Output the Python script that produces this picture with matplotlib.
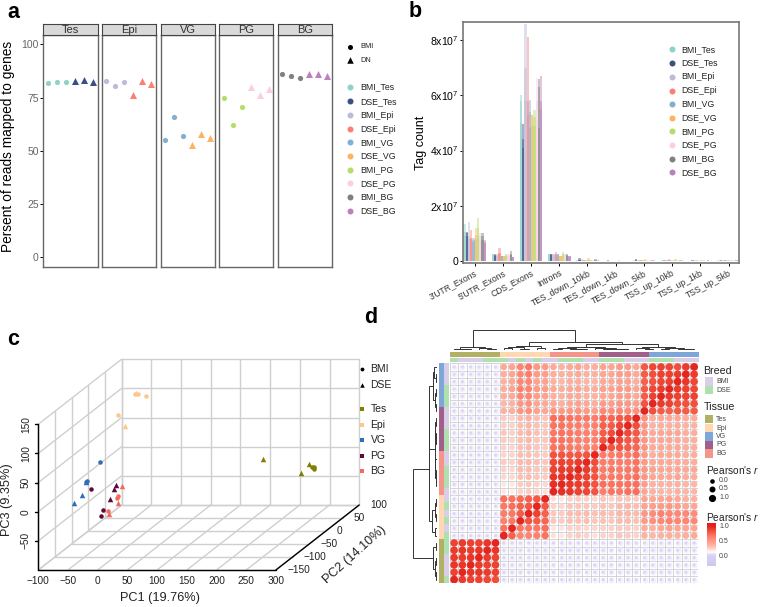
"""Four panel RNA-seq figure: mapping rate, tag counts, PCA and correlation map."""

import numpy as np
import matplotlib

matplotlib.use("Agg")
import matplotlib.pyplot as plt
from matplotlib.colors import LinearSegmentedColormap, ListedColormap
from matplotlib.patches import Rectangle

plt.rcParams["font.family"] = ["Liberation Sans", "DejaVu Sans"]
plt.rcParams["mathtext.fontset"] = "custom"
plt.rcParams["mathtext.rm"] = "Liberation Sans"
plt.rcParams["mathtext.it"] = "Liberation Sans:italic"
plt.rcParams["mathtext.default"] = "regular"

W, H = 760, 607

# shared sample groups
samples = ["BMI_Tes", "DSE_Tes", "BMI_Epi", "DSE_Epi", "BMI_VG",
           "DSE_VG", "BMI_PG", "DSE_PG", "BMI_BG", "DSE_BG"]
sample_colors = ["#8DD3C7", "#3C4F82", "#BEBADA", "#FB8072", "#80B1D3",
                 "#FDB462", "#B3DE69", "#FCCDE5", "#808080", "#BC80BD"]
tissues = ["Tes", "Epi", "VG", "PG", "BG"]

# panel a, three BMI then three DSE libraries per tissue
mapped_tes = [81.8, 82.3, 82.3, 82.6, 83.1, 82.2]
mapped_epi = [83.0, 80.7, 82.3, 76.0, 82.8, 81.5]
mapped_vg = [55.0, 66.0, 57.0, 52.8, 58.0, 56.0]
mapped_pg = [75.0, 62.0, 70.7, 80.0, 76.3, 79.0]
mapped_bg = [86.0, 85.0, 84.3, 86.2, 86.0, 85.3]

# panel b, in units of 1e7, one row per feature
features = ["3'UTR_Exons", "5'UTR_Exons", "CDS_Exons", "Introns", "TES_down_10kb",
            "TES_down_1kb", "TES_down_5kb", "TSS_up_10kb", "TSS_up_1kb", "TSS_up_5kb"]
tags_high = [
    [1.34, 1.05, 1.42, 1.12, 0.82, 1.20, 1.55, 1.00, 1.00, 0.78],
    [0.25, 0.24, 0.24, 0.47, 0.20, 0.20, 0.24, 0.25, 0.38, 0.15],
    [6.02, 4.95, 8.56, 8.10, 5.83, 5.30, 5.47, 6.63, 6.60, 6.70],
    [0.27, 0.27, 0.27, 0.32, 0.26, 0.20, 0.33, 0.26, 0.25, 0.20],
    [0.03, 0.10, 0.06, 0.05, 0.04, 0.10, 0.05, 0.03, 0.06, 0.04],
    [0.02, 0.03, 0.02, 0.02, 0.02, 0.02, 0.03, 0.02, 0.02, 0.02],
    [0.03, 0.06, 0.04, 0.05, 0.03, 0.06, 0.04, 0.03, 0.04, 0.03],
    [0.03, 0.04, 0.05, 0.08, 0.03, 0.04, 0.06, 0.03, 0.04, 0.03],
    [0.02, 0.04, 0.03, 0.05, 0.02, 0.03, 0.04, 0.02, 0.03, 0.02],
    [0.03, 0.05, 0.03, 0.05, 0.03, 0.04, 0.04, 0.03, 0.03, 0.02],
]
tags_mid = [
    [1.05, 1.00, 0.90, 0.85, 0.75, 0.95, 1.20, 0.90, 0.90, 0.70],
    [0.24, 0.22, 0.22, 0.30, 0.19, 0.19, 0.22, 0.22, 0.25, 0.14],
    [5.80, 4.40, 7.00, 5.80, 5.40, 5.30, 5.20, 5.80, 6.30, 5.80],
    [0.25, 0.25, 0.25, 0.26, 0.24, 0.19, 0.26, 0.25, 0.23, 0.18],
    [0.02, 0.05, 0.03, 0.03, 0.02, 0.05, 0.03, 0.02, 0.03, 0.02],
    [0.01, 0.02, 0.01, 0.01, 0.01, 0.01, 0.02, 0.01, 0.01, 0.01],
    [0.02, 0.03, 0.02, 0.03, 0.02, 0.03, 0.02, 0.02, 0.02, 0.02],
    [0.02, 0.02, 0.03, 0.04, 0.02, 0.02, 0.03, 0.02, 0.02, 0.02],
    [0.01, 0.02, 0.02, 0.02, 0.01, 0.02, 0.02, 0.01, 0.02, 0.01],
    [0.02, 0.02, 0.02, 0.03, 0.02, 0.02, 0.02, 0.02, 0.02, 0.01],
]
tags_low = [
    [0.90, 0.90, 0.80, 0.80, 0.70, 0.80, 0.90, 0.80, 0.75, 0.65],
    [0.22, 0.20, 0.20, 0.24, 0.18, 0.18, 0.20, 0.20, 0.22, 0.13],
    [5.00, 4.10, 5.80, 5.30, 4.80, 4.90, 4.90, 5.10, 4.80, 5.50],
    [0.22, 0.22, 0.23, 0.22, 0.22, 0.18, 0.23, 0.22, 0.20, 0.16],
    [0.01, 0.03, 0.02, 0.02, 0.01, 0.03, 0.02, 0.01, 0.02, 0.01],
    [0.01, 0.01, 0.01, 0.01, 0.01, 0.01, 0.01, 0.01, 0.01, 0.01],
    [0.01, 0.02, 0.01, 0.02, 0.01, 0.02, 0.01, 0.01, 0.01, 0.01],
    [0.01, 0.01, 0.02, 0.02, 0.01, 0.01, 0.02, 0.01, 0.01, 0.01],
    [0.01, 0.01, 0.01, 0.01, 0.01, 0.01, 0.01, 0.01, 0.01, 0.01],
    [0.01, 0.01, 0.01, 0.02, 0.01, 0.01, 0.01, 0.01, 0.01, 0.01],
]

# panel c, (PC1, PC2, PC3) per library
pca_colors = {"Tes": "#808000", "Epi": "#FFC68C", "VG": "#2F6DB5", "PG": "#5E0B3B", "BG": "#F4695F"}
pca_bmi = {
    "Tes": [(288, -20, 19), (290.5, -20, 18), (292, -20, 16)],
    "Epi": [(-49, 50, 112), (-44.5, 50, 112), (-31, 50, 109), (-78, 50, 77)],
    "VG": [(-46, -60, 45), (-69, -60, 12), (-70, -60, 10)],
    "PG": [(-62, -60, -2), (-41, -60, -37), (-45, -60, -48)],
    "BG": [(-17, -60, -13), (-17.5, -60, -16), (-33, -60, -39)],
}
pca_dse = {
    "Tes": [(205, -20, 32), (270, -20, 9), (282, -20, 23)],
    "Epi": [(-47, 50, 114), (-66, 50, 57)],
    "VG": [(-71, -60, 10), (-77, -60, -11), (-91, -60, -26)],
    "PG": [(-19, -60, 5), (-23, -60, -2), (-30, -60, -19)],
    "BG": [(-9, -60, 4), (-16, -60, -26), (-31, -60, -44)],
}

# panel d, row blocks top to bottom, column blocks Tes, Epi, BG, PG, VG
corr_rows = [
    [.04, .05, .04, .05, .04, .04, .42, .45, .62, .68, .52, .50, .42, .38, .42, .45, .40, .40, .46, .45, .50, .50, .42, .82, .88, .90, .88, .85, .92, 1.0],
    [.05, .04, .05, .05, .04, .04, .40, .44, .60, .66, .50, .48, .40, .38, .40, .42, .38, .38, .44, .44, .48, .48, .42, .80, .85, .90, .90, .92, 1.0, .92],
    [.04, .03, .05, .04, .04, .05, .38, .42, .60, .62, .46, .46, .38, .36, .40, .40, .36, .36, .42, .42, .46, .46, .40, .78, .84, .88, .90, 1.0, .94, .88],
    [.05, .05, .04, .05, .03, .04, .40, .45, .64, .62, .50, .48, .42, .40, .42, .44, .40, .40, .46, .46, .50, .50, .44, .80, .88, .92, 1.0, .92, .90, .88],
    [.04, .05, .04, .04, .05, .04, .40, .42, .60, .60, .48, .46, .40, .38, .42, .42, .38, .38, .44, .44, .48, .48, .42, .80, .90, 1.0, .92, .90, .90, .90],
    [.05, .04, .05, .05, .04, .03, .36, .38, .52, .55, .44, .42, .44, .40, .44, .46, .42, .40, .50, .48, .52, .52, .48, .84, 1.0, .92, .90, .86, .85, .85],
    [.03, .04, .04, .04, .03, .04, .38, .40, .52, .55, .46, .44, .52, .50, .52, .54, .50, .48, .60, .58, .60, .58, .55, 1.0, .85, .80, .78, .80, .80, .80],
    [.04, .03, .04, .04, .03, .03, .28, .26, .34, .38, .33, .30, .72, .72, .70, .68, .68, .66, .76, .76, .80, .84, 1.0, .55, .40, .42, .42, .42, .40, .40],
    [.03, .04, .03, .04, .04, .03, .27, .26, .33, .36, .32, .30, .70, .70, .66, .66, .62, .64, .78, .80, .88, 1.0, .86, .52, .38, .40, .40, .40, .38, .38],
    [.04, .03, .04, .03, .03, .04, .30, .27, .34, .37, .32, .30, .68, .70, .68, .66, .64, .64, .80, .86, 1.0, .88, .82, .52, .42, .44, .44, .44, .40, .40],
    [.03, .04, .03, .04, .03, .03, .28, .26, .33, .36, .30, .30, .70, .70, .68, .66, .64, .64, .84, 1.0, .88, .82, .78, .52, .42, .44, .44, .42, .40, .40],
    [.03, .03, .04, .03, .04, .03, .26, .25, .32, .34, .30, .28, .70, .72, .68, .66, .64, .64, 1.0, .84, .84, .80, .76, .54, .42, .42, .42, .42, .40, .40],
    [.03, .04, .03, .03, .03, .04, .25, .25, .33, .33, .30, .28, .84, .84, .82, .82, .84, 1.0, .66, .66, .68, .68, .72, .50, .40, .42, .42, .42, .40, .40],
    [.04, .03, .03, .04, .03, .03, .28, .26, .34, .35, .32, .30, .88, .90, .88, .92, 1.0, .86, .66, .66, .66, .66, .70, .50, .42, .42, .42, .42, .40, .40],
    [.03, .03, .04, .03, .03, .04, .26, .24, .34, .34, .30, .30, .90, .92, .92, 1.0, .92, .84, .66, .68, .66, .68, .70, .52, .46, .44, .44, .44, .42, .42],
    [.03, .04, .03, .03, .04, .03, .24, .24, .32, .34, .30, .28, .94, .94, 1.0, .92, .90, .84, .68, .68, .68, .68, .72, .52, .44, .42, .42, .44, .40, .40],
    [.04, .03, .03, .03, .03, .04, .20, .20, .28, .30, .26, .24, .96, 1.0, .94, .92, .90, .84, .72, .70, .70, .70, .72, .48, .38, .38, .38, .38, .36, .36],
    [.03, .03, .04, .03, .03, .03, .20, .18, .26, .28, .24, .22, 1.0, .96, .94, .90, .88, .84, .66, .70, .68, .72, .72, .44, .38, .36, .36, .38, .36, .36],
    [.04, .03, .04, .04, .03, .03, .72, .70, .74, .78, .82, 1.0, .22, .20, .26, .28, .26, .24, .30, .26, .30, .30, .28, .44, .42, .44, .46, .42, .38, .38],
    [.03, .04, .03, .03, .04, .03, .68, .72, .78, .82, 1.0, .82, .26, .24, .30, .30, .30, .28, .32, .30, .34, .36, .33, .46, .48, .50, .52, .48, .44, .44],
    [.03, .02, .03, .04, .03, .03, .66, .68, .80, 1.0, .90, .78, .30, .28, .34, .34, .34, .32, .34, .32, .36, .36, .34, .52, .58, .64, .62, .60, .60, .58],
    [.04, .03, .04, .03, .03, .04, .64, .68, 1.0, .84, .80, .76, .30, .28, .32, .32, .33, .30, .32, .30, .34, .34, .32, .50, .56, .60, .64, .62, .62, .60],
    [.03, .04, .03, .03, .04, .03, .70, 1.0, .68, .68, .68, .72, .20, .20, .26, .26, .24, .24, .26, .26, .28, .28, .26, .40, .38, .42, .46, .44, .44, .44],
    [.02, .03, .03, .03, .03, .03, 1.0, .78, .62, .62, .64, .70, .22, .20, .26, .28, .26, .22, .26, .26, .30, .28, .26, .38, .36, .38, .40, .38, .40, .42],
    [.90, .92, .90, .90, .94, 1.0, .03, .03, .04, .03, .04, .03, .03, .04, .03, .03, .04, .03, .03, .04, .03, .03, .04, .03, .04, .03, .03, .04, .03, .03],
    [.92, .94, .92, .94, 1.0, .94, .03, .04, .03, .03, .03, .04, .04, .03, .03, .04, .03, .03, .04, .03, .04, .03, .03, .03, .03, .04, .03, .03, .03, .04],
    [.92, .92, .94, 1.0, .92, .90, .04, .03, .03, .04, .03, .03, .03, .03, .04, .03, .03, .04, .03, .03, .03, .04, .03, .04, .03, .03, .04, .03, .04, .03],
    [.94, .94, 1.0, .92, .90, .90, .03, .03, .04, .03, .03, .04, .03, .04, .03, .03, .02, .03, .03, .04, .03, .03, .04, .03, .03, .04, .03, .03, .03, .03],
    [.90, 1.0, .94, .94, .92, .90, .03, .04, .03, .03, .04, .03, .04, .03, .03, .04, .03, .03, .03, .03, .04, .03, .03, .04, .03, .03, .03, .04, .03, .03],
    [1.0, .92, .90, .90, .88, .86, .00, .00, .01, .00, .00, .01, .01, .00, .00, .01, .00, .00, .00, .01, .00, .00, .01, .00, .00, .01, .00, .00, .01, .00],
]
# 0 = BMI, 1 = DSE, left to right
col_breed = [1, 0, 0, 0, 1, 1, 1, 0, 1, 0, 1, 0, 0, 1, 1, 1, 0, 0, 1, 1, 1, 0, 0, 0, 1, 1, 1, 0, 0, 0]
row_breed = col_breed[::-1]
# 0 Tes, 1 Epi, 2 VG, 3 PG, 4 BG
col_tissue = [0] * 6 + [1] * 6 + [4] * 6 + [3] * 6 + [2] * 6
row_tissue = col_tissue[::-1]
tissue_colors = ["#B2B064", "#FFD7B0", "#7EA6D8", "#A0608A", "#F59488"]
breed_colors = ["#D8CEE8", "#B0E0B0"]

# dendrograms as (height, left, right), leaves are grid indices
col_tree = (20, (2.7, (1.0, 0, (0.5, 1, 2)), (1.4, 3, (0.6, 4, 5))),
            (7.3, (4.0, (3.0, (1.3, 6, 7), (0.8, 8, 9)), (1.6, 10, 11)),
             (5.7, (2.3, (1.6, (0.6, 12, 13), (0.9, 14, (0.4, 15, 16))), (1.4, 17, (1.0, (0.5, 18, 19), (0.6, 20, 21)))),
              (3.0, (1.8, 22, (0.8, 23, 24)), (1.8, (0.7, 25, 26), (0.9, 27, (0.4, 28, 29)))))))
row_tree = (24, (8.8, (8.2, (4.4, (3.0, 0, (1.6, 1, 2)), (2.8, (1.0, 3, 4), (1.2, 5, 6))),
                  (2.9, (2.2, (1.0, 7, 8), (1.4, 9, (0.6, 10, 11))), (2.0, (0.8, 12, 13), (1.1, 14, (0.7, (0.3, 15, 16), 17))))),
            (5.0, (2.8, (1.0, 18, 19), (1.6, 20, 21)), (2.0, 22, 23))),
            (4.0, (1.6, 24, 25), (2.6, (1.2, 26, 27), (1.0, 28, 29))))


def axes_px(x0, y0, x1, y1, **kwargs):
    """Add axes from pixel edges measured from the top left."""
    return fig.add_axes([x0 / W, 1 - y1 / H, (x1 - x0) / W, (y1 - y0) / H], **kwargs)


def marker_area(d_px):
    """Scatter area for a marker diameter given in pixels."""
    return (np.asarray(d_px) * 0.72) ** 2


def draw_tree(node, segs):
    """Collect the branch lines of a nested tree, returns position and height."""
    if not isinstance(node, tuple):
        return node, 0.0
    h, left, right = node
    p1, h1 = draw_tree(left, segs)
    p2, h2 = draw_tree(right, segs)
    segs.append(([p1, p1, p2, p2], [h1, h, h, h2]))
    return (p1 + p2) / 2, h


fig = plt.figure(figsize=(W / 100, H / 100), dpi=100)
overlay = axes_px(0, 0, W, H, zorder=10)
overlay.set_xlim(0, W)
overlay.set_ylim(H, 0)
overlay.axis("off")

for label, x, y in [("a", 7.5, 18), ("b", 409, 17), ("c", 7.5, 345), ("d", 364, 323)]:
    overlay.text(x, y, label, fontsize=15.5, fontweight="bold", va="baseline")

# panel a
panel_edges = [(43, 97.5), (101.5, 156), (160.5, 215), (219, 273), (277.5, 332)]
mapped = [mapped_tes, mapped_epi, mapped_vg, mapped_pg, mapped_bg]
for t, (tissue, edges) in enumerate(zip(tissues, panel_edges)):
    ax = axes_px(edges[0], 34.5, edges[1], 267)
    for k, value in enumerate(mapped[t]):
        is_dse = k >= 3
        ax.scatter(k + 1, value, s=marker_area(7 if is_dse else 5.2), marker="^" if is_dse else "o",
                   color=sample_colors[2 * t + int(is_dse)], linewidths=0)
    ax.set_xlim(0.45, 6.5)
    ax.set_ylim(-4.7, 104.7)
    ax.set_xticks([])
    if t == 0:
        ax.set_yticks([0, 25, 50, 75, 100])
        ax.tick_params(axis="y", length=2, width=0.7, labelsize=7.5, labelcolor="#666666", pad=1)
    else:
        ax.set_yticks([])
    for spine in ax.spines.values():
        spine.set_color("#666666")
        spine.set_linewidth(1.0)
    strip = axes_px(edges[0], 23.5, edges[1], 34.5)
    strip.set_facecolor("#D9D9D9")
    strip.set_xticks([])
    strip.set_yticks([])
    for spine in strip.spines.values():
        spine.set_color("#444444")
        spine.set_linewidth(0.8)
    strip.text(0.5, 0.45, tissue, transform=strip.transAxes, ha="center", va="center",
               fontsize=8, color="#333333")

overlay.text(8, 146, "Persent of reads mapped to genes", fontsize=9.9, rotation=90,
             ha="center", va="center")
overlay.scatter(350, 46.7, s=marker_area(5), color="black", linewidths=0)
overlay.scatter(350, 60, s=marker_area(6.5), marker="^", color="black", linewidths=0)
overlay.text(360, 46.7, "BMI", fontsize=5.3, va="center", color="#222222")
overlay.text(360, 60, "DN", fontsize=5.3, va="center", color="#222222")
for name, color, y in zip(samples, sample_colors, [87, 101.3, 115.3, 129, 142.3, 156, 170, 183.3, 197, 210.7]):
    overlay.scatter(350, y, s=marker_area(6), color=color, linewidths=0)
    overlay.text(360, y, name, fontsize=6.3, va="center", color="#222222")

# panel b
ax_b = axes_px(463.3, 21.7, 739.3, 263.3)
bar_w = 0.08
for f in range(len(features)):
    for s in range(len(samples)):
        pos = f + 1 + (s - 4.5) * bar_w
        for level in (tags_high, tags_mid, tags_low):
            ax_b.bar(pos, level[f][s], bar_w, color=sample_colors[s], alpha=0.45, linewidth=0)
ax_b.set_xlim(0.6, 10.38)
ax_b.set_ylim(-0.08, 8.66)
ax_b.set_yticks([0, 2, 4, 6, 8])
ax_b.set_yticklabels(["0", r"2x10$^{7}$", r"4x10$^{7}$", r"6x10$^{7}$", r"8x10$^{7}$"], fontsize=7.6)
ax_b.set_xticks(range(1, 11))
ax_b.set_xticklabels(features, rotation=28, ha="right", rotation_mode="anchor", fontsize=6.2, color="#333333")
ax_b.tick_params(axis="both", length=2, width=0.7, pad=1.5)
ax_b.set_ylabel("Tag count", fontsize=9, labelpad=2)
for spine in ax_b.spines.values():
    spine.set_color("#777777")
    spine.set_linewidth(1.2)
for name, color, y in zip(samples, sample_colors, [49.3, 63, 76.7, 90.7, 104, 117.7, 131.3, 145, 158.7, 172.3]):
    overlay.scatter(671.7, y, s=marker_area(6), color=color, linewidths=0)
    overlay.text(681.7, y, name, fontsize=6.3, va="center", color="#222222")

# panel c, oblique projection of the three PCs onto the page
pc1_ticks = list(range(-100, 301, 50))
pc2_ticks = list(range(-150, 101, 50))
pc3_ticks = list(range(-100, 151, 50))
pc2_dx = 0.561
pc2_dy = 0.446


def project(pc1, pc2, pc3):
    """Map PC coordinates to the flat axes of the box."""
    return pc1 + pc2_dx * (pc2 + 150), pc3 + pc2_dy * (pc2 + 150)


# one PC1 unit is 0.594 px and one PC3 unit is 0.583 px
ax_c = axes_px(38.3 - 0.594 * 50, 570 - 0.583 * 250 - 80, 38.3 + 0.594 * 640, 570 + 0.583 * 50)
ax_c.set_xlim(-150, 540)
ax_c.set_ylim(-150, 150 + 80 / 0.583)
ax_c.axis("off")
ax_c.patch.set_alpha(0)


def line3d(p, q, **kwargs):
    """Draw one straight box line between two PC positions."""
    u0, v0 = project(*p)
    u1, v1 = project(*q)
    ax_c.plot([u0, u1], [v0, v1], solid_capstyle="round", **kwargs)


grid_style = {"color": "#CFCFCF", "lw": 1.0, "zorder": 1}
for x in pc1_ticks:
    line3d((x, -150, -100), (x, 100, -100), **grid_style)
    line3d((x, 100, -100), (x, 100, 150), **grid_style)
for y in pc2_ticks:
    line3d((-100, y, -100), (300, y, -100), **grid_style)
    line3d((-100, y, -100), (-100, y, 150), **grid_style)
for z in pc3_ticks:
    line3d((-100, -150, z), (-100, 100, z), **grid_style)
    line3d((-100, 100, z), (300, 100, z), **grid_style)

axis_style = {"color": "black", "lw": 1.0, "zorder": 2}
line3d((-100, -150, -100), (300, -150, -100), **axis_style)
line3d((-100, -150, -100), (-100, -150, 150), **axis_style)
line3d((300, -150, -100), (300, 100, -100), **axis_style)

for x in pc1_ticks:
    ax_c.annotate(str(x).replace("-", "\u2212"), project(x, -150, -100), xytext=(0, -4), textcoords="offset points",
                  ha="center", va="top", fontsize=7.3, color="#222222")
for z in pc3_ticks[1:]:
    ax_c.annotate(str(z).replace("-", "\u2212"), project(-100, -150, z), xytext=(-9, 0), textcoords="offset points",
                  ha="center", va="center", rotation=90, fontsize=7.3, color="#222222")
    line3d((-100, -150, z), (-106, -150, z), **axis_style)
for y in pc2_ticks:
    ax_c.annotate(str(y).replace("-", "\u2212"), project(300, y, -100), xytext=(8, 0), textcoords="offset points",
                  ha="left", va="center", fontsize=7.3, color="#222222")

for tissue in tissues:
    bmi = np.array(pca_bmi[tissue])
    u, v = project(bmi[:, 0], bmi[:, 1], bmi[:, 2])
    ax_c.scatter(u, v, s=marker_area(4.5), color=pca_colors[tissue], linewidths=0, zorder=3)
    dse = np.array(pca_dse[tissue])
    u, v = project(dse[:, 0], dse[:, 1], dse[:, 2])
    ax_c.scatter(u, v, s=marker_area(5.5), marker="^", color=pca_colors[tissue], linewidths=0, zorder=3)

overlay.text(160, 598, "PC1 (19.76%)", fontsize=9.2, ha="center", va="center", color="#222222")
overlay.text(7.3, 500, "PC3 (9.35%)", fontsize=9.2, ha="center", va="center", rotation=90, color="#222222")
overlay.text(355, 555, "PC2 (14.10%)", fontsize=9.2, ha="center", va="center", rotation=42, color="#222222")
overlay.scatter(362, 369.3, s=marker_area(3.8), color="black", linewidths=0)
overlay.scatter(362, 385, s=marker_area(4.5), marker="^", color="black", linewidths=0)
overlay.text(370.5, 369.3, "BMI", fontsize=7.5, va="center", color="#222222")
overlay.text(370.5, 385, "DSE", fontsize=7.5, va="center", color="#222222")
for tissue, y in zip(tissues, [409, 424.7, 440, 455.7, 471]):
    overlay.scatter(362, y, s=marker_area(3.2), marker="s", color=pca_colors[tissue], linewidths=0)
    overlay.text(370.5, y, tissue, fontsize=7.5, va="center", color="#222222")

# panel d
corr_cmap = LinearSegmentedColormap.from_list(
    "corr", [(0.0, "#CFC8F0"), (0.229, "#D8D0F6"), (0.28, "#E4DEFA"), (0.313, "#FFFFFF"),
             (0.437, "#FFC4B8"), (0.52, "#FFA896"), (0.68, "#FF7F6C"), (0.82, "#F2503C"),
             (0.92, "#E5261F"), (1.0, "#E31A1C")])
corr = np.array(corr_rows)
n_rows, n_cols = corr.shape
ax_d = axes_px(450, 363.3, 698.3, 583.3)
ax_d.set_xlim(-0.5, n_cols - 0.5)
ax_d.set_ylim(n_rows - 0.5, -0.5)
ax_d.set_xticks(np.arange(n_cols + 1) - 0.5)
ax_d.set_yticks(np.arange(n_rows + 1) - 0.5)
ax_d.grid(color="#D4D4D4", lw=0.7)
ax_d.set_axisbelow(True)
ax_d.tick_params(length=0, labelbottom=False, labelleft=False)
for spine in ax_d.spines.values():
    spine.set_visible(False)
cols_idx, rows_idx = np.meshgrid(np.arange(n_cols), np.arange(n_rows))
low = corr < 0.15
ax_d.scatter(cols_idx[low], rows_idx[low], s=marker_area(6), color="#F3F0FD", linewidths=0, zorder=2)
sizes = np.interp(corr, [0, 0.1, 0.25, 0.4, 0.7, 1.0], [2.8, 3.6, 5.8, 6.6, 7.2, 7.8])
ax_d.scatter(cols_idx.ravel(), rows_idx.ravel(), s=marker_area(sizes.ravel()), c=corr.ravel(),
             cmap=corr_cmap, vmin=-0.33, vmax=1.11, linewidths=0, zorder=3)

# annotation strips next to the grid
for box, values, cmap, horizontal in [
    ((450, 352.3, 698.3, 357.4), col_tissue, tissue_colors, True),
    ((450, 357.7, 698.3, 362.5), col_breed, breed_colors, True),
    ((438.7, 363.3, 443.7, 583.3), row_tissue, tissue_colors, False),
    ((444, 363.3, 449, 583.3), row_breed, breed_colors, False),
]:
    strip = axes_px(*box)
    strip_data = np.array(values).reshape(1, -1) if horizontal else np.array(values).reshape(-1, 1)
    strip.imshow(strip_data, aspect="auto", interpolation="nearest",
                 cmap=ListedColormap(cmap), vmin=-0.5, vmax=len(cmap) - 0.5)
    strip.axis("off")

ax_top = axes_px(450, 325, 698.3, 349.5)
ax_top.set_xlim(-0.5, n_cols - 0.5)
ax_top.set_ylim(0, 24.5)
ax_top.axis("off")
segs = []
draw_tree(col_tree, segs)
for pos, hgt in segs:
    ax_top.plot(pos, hgt, color="#333333", lw=0.7, solid_joinstyle="miter")

ax_left = axes_px(411, 363.3, 437.5, 583.3)
ax_left.set_xlim(26.5, 0)
ax_left.set_ylim(n_rows - 0.5, -0.5)
ax_left.axis("off")
segs = []
draw_tree(row_tree, segs)
for pos, hgt in segs:
    ax_left.plot(hgt, pos, color="#333333", lw=0.7, solid_joinstyle="miter")

legend_color = "#444444"
overlay.text(703.5, 371.5, "Breed", fontsize=7.7, va="center", color="#222222")
for name, color, y in [("BMI", breed_colors[0], 377.3), ("DSE", breed_colors[1], 385.8)]:
    overlay.add_patch(Rectangle((705.3, y), 8, 8.4, color=color, lw=0))
    overlay.text(716, y + 4.2, name, fontsize=5, va="center", color=legend_color)
overlay.text(703.5, 407.5, "Tissue", fontsize=7.7, va="center", color="#222222")
for tissue, color, y in zip(["Tes", "Epi", "VG", "PG", "BG"], tissue_colors, [415, 423.8, 432.2, 440.8, 449.2]):
    overlay.add_patch(Rectangle((705.3, y), 8, 8.3, color=color, lw=0))
    overlay.text(716, y + 4.2, tissue, fontsize=5, va="center", color=legend_color)
overlay.text(706.5, 470, "Pearson's $\\mathit{r}$", fontsize=7.3, va="center", color="#222222")
for text, d, y in [("0.0", 4.6, 481), ("0.5", 6, 489), ("1.0", 7.2, 497.7)]:
    overlay.scatter(711.7, y, s=marker_area(d), color="black", linewidths=0)
    overlay.text(719, y, text, fontsize=5, va="center", color=legend_color)
overlay.text(706.5, 516.7, "Pearson's $\\mathit{r}$", fontsize=7.3, va="center", color="#222222")
ax_cbar = axes_px(707.3, 523.3, 715.7, 566)
cbar_levels = np.linspace(1.11, -0.33, 100).reshape(-1, 1)
ax_cbar.imshow(cbar_levels, aspect="auto", cmap=corr_cmap, vmin=-0.33, vmax=1.11,
               extent=[0, 1, -0.33, 1.11])
ax_cbar.axis("off")
for text, y in [("1.0", 526.7), ("0.5", 541.7), ("0.0", 556.3)]:
    overlay.text(719, y, text, fontsize=5, va="center", color=legend_color)

fig.savefig("out.png", dpi=100)
